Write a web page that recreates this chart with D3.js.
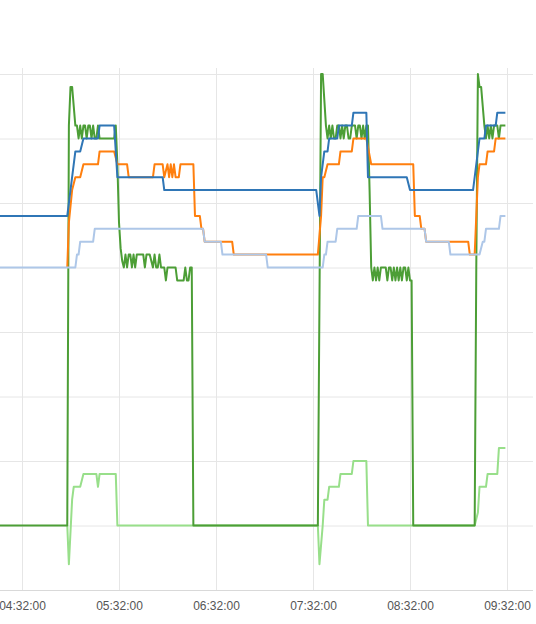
<!DOCTYPE html>
<html><head><meta charset="utf-8">
<script src="https://cdn.jsdelivr.net/npm/d3@7"></script>
<style>body{margin:0;background:#fff}svg{display:block}text{font-family:"Liberation Sans",Arial,sans-serif}</style>
</head><body><svg id="chart" width="536" height="624"></svg>
<script>
const timeTicks = ["04:32:00","05:32:00","06:32:00","07:32:00","08:32:00","09:32:00"];
const yTicks = [0,10,20,30,40,50,60,70,80];

const seriesBlue = [["04:18",58],["05:00",58],["05:05",68],["05:08",68],["05:10",70],["05:19",70],["05:20",72],["05:29",72],["05:31",64],["05:59",64],["06:00",62],["07:34",62],["07:36",58],["07:37",64],["07:39",68],["07:41",68],["07:42",70],["07:47",70],["07:48",72],["07:56",72],["07:57",74],["08:05",74],["08:06",64],["08:30",64],["08:32",62],["09:11",62],["09:15",70],["09:18",70],["09:19",72],["09:25",72],["09:26",74],["09:31",74]];

const seriesOrange = [["05:00",50],["05:01",57],["05:03",62],["05:05",64],["05:08",64],["05:10",66],["05:19",66],["05:20",68],["05:29",68],["05:31",66],["05:37",66],["05:38",64],["05:53",64],["05:54",66],["05:59",66],["06:00",64],["06:02",66],["06:03",64],["06:04",66],["06:05",64],["06:06",66],["06:07",64],["06:09",64],["06:10",66],["06:18",66],["06:19",58],["06:22",58],["06:23",56],["06:24",56],["06:25",54],["06:42",54],["06:43",52],["07:35",52],["07:37",58],["07:38",64],["07:39",64],["07:41",66],["07:48",66],["07:49",68],["07:56",68],["07:57",70],["08:05",70],["08:08",66],["08:34",66],["08:35",58],["08:38",58],["08:39",56],["08:41",56],["08:42",54],["09:08",54],["09:09",52],["09:12",52],["09:14",64],["09:15",66],["09:19",66],["09:20",68],["09:24",68],["09:25",70],["09:31",70]];

const seriesLightBlue = [["04:18",50],["05:05",50],["05:06",52],["05:07",52],["05:08",54],["05:16",54],["05:17",56],["06:24",56],["06:25",54],["06:35",54],["06:36",52],["07:03",52],["07:04",50],["07:38",50],["07:39",52],["07:40",52],["07:41",54],["07:46",54],["07:47",56],["07:59",56],["08:00",58],["08:14",58],["08:15",56],["08:41",56],["08:42",54],["08:56",54],["08:57",52],["09:15",52],["09:17",54],["09:18",54],["09:19",56],["09:27",56],["09:28",58],["09:31",58]];

const seriesGreen = [["04:18",10],["05:00",10],["05:01",72],["05:02",78],["05:03",78],["05:05",72],["05:06",72],["05:07",70],["05:08",72],["05:09",70],["05:10",72],["05:11",72],["05:12",70],["05:13",72],["05:14",72],["05:15",70],["05:16",72],["05:17",70],["05:18",70],["05:19",72],["05:20",70],["05:29",70],["05:30",72],["05:31",66],["05:32",57],["05:33",53],["05:34",51],["05:35",50],["05:36",52],["05:37",50],["05:38",52],["05:39",52],["05:40",50],["05:41",52],["05:42",50],["05:43",52],["05:47",52],["05:48",50],["05:49",52],["05:51",52],["05:53",50],["05:54",52],["05:55",50],["05:56",50],["05:57",52],["05:58",50],["06:00",50],["06:01",48],["06:02",50],["06:07",50],["06:08",48],["06:12",48],["06:13",50],["06:14",48],["06:15",48],["06:16",50],["06:17",50],["06:18",10],["07:35",10],["07:36",45],["07:37",80],["07:38",80],["07:39",76],["07:40",72],["07:41",70],["07:42",72],["07:43",70],["07:44",72],["07:45",70],["07:46",70],["07:47",72],["07:48",72],["07:49",70],["07:50",72],["07:51",70],["07:52",72],["07:53",72],["07:54",70],["07:55",70],["07:56",72],["07:57",72],["07:58",72],["07:59",70],["08:00",72],["08:01",72],["08:02",70],["08:03",72],["08:04",70],["08:05",72],["08:06",72],["08:07",62],["08:08",50],["08:09",48],["08:10",50],["08:11",48],["08:12",50],["08:13",48],["08:14",50],["08:17",50],["08:18",48],["08:19",50],["08:20",50],["08:21",48],["08:22",50],["08:23",48],["08:24",50],["08:25",48],["08:26",50],["08:27",48],["08:28",50],["08:29",50],["08:30",48],["08:31",50],["08:32",48],["08:33",48],["08:34",10],["09:12",10],["09:13",50],["09:14",80],["09:15",78],["09:16",78],["09:17",75],["09:18",72],["09:19",70],["09:20",72],["09:21",70],["09:22",72],["09:23",70],["09:24",72],["09:26",72],["09:27",70],["09:28",72],["09:31",72]];

const seriesLightGreen = [["05:00",10],["05:01",4],["05:02",9],["05:03",14],["05:04",16],["05:08",16],["05:10",18],["05:18",18],["05:19",16],["05:20",18],["05:30",18],["05:31",10],["07:35",10],["07:36",4],["07:37",7],["07:38",10],["07:39",14],["07:41",14],["07:42",16],["07:48",16],["07:49",18],["07:56",18],["07:57",20],["08:05",20],["08:06",10],["09:12",10],["09:13",11],["09:14",12],["09:15",16],["09:19",16],["09:20",18],["09:26",18],["09:27",22],["09:31",22]];

// drawing order (bottom to top) and colours
const layers = [
  {data: seriesLightGreen, color: "#98df8a"},
  {data: seriesGreen, color: "#4c9e36"},
  {data: seriesOrange, color: "#ff7f0e"},
  {data: seriesLightBlue, color: "#aec7e8"},
  {data: seriesBlue, color: "#2f76b6"}
];

const day = "2020-01-01 ";
const parseMin = d3.timeParse("%Y-%m-%d %H:%M");
const parseSec = d3.timeParse("%Y-%m-%d %H:%M:%S");
const tickDates = timeTicks.map(t => parseSec(day + t));

const W = 536, plotRight = 533, plotBottom = 590, plotTop = 74, gridTop = 68;
const x = d3.scaleTime().domain([tickDates[0], tickDates[tickDates.length-1]]).range([22, 507]);
const y = d3.scaleLinear().domain([0, 80]).range([plotBottom, plotTop]);

const svg = d3.select("#chart");
svg.append("rect").attr("width", W).attr("height", 624).attr("fill", "#fff");

// horizontal grid
const gy = svg.append("g")
  .call(d3.axisRight(y).tickValues(yTicks).tickSize(plotRight).tickFormat(""));
gy.select(".domain").remove();
gy.selectAll(".tick line").attr("stroke", "#e6e6e6").attr("stroke-width", 1);
gy.selectAll(".tick").filter(d => d === 0).select("line").attr("stroke", "#d9d9d9");

// vertical grid + labels
const gx = svg.append("g").attr("transform", `translate(0,${plotBottom})`)
  .call(d3.axisBottom(x).tickValues(tickDates).tickSize(-(plotBottom - gridTop)).tickPadding(11)
    .tickFormat(d3.timeFormat("%H:%M:%S")));
gx.select(".domain").remove();
gx.selectAll(".tick line").attr("stroke", "#e6e6e6").attr("stroke-width", 1);
gx.selectAll(".tick text").attr("fill", "#555").attr("font-size", "12px")
  .attr("font-family", "'Liberation Sans', Arial, sans-serif");

const line = d3.line()
  .x(d => x(parseMin(day + d[0])))
  .y(d => y(d[1]))
  .curve(d3.curveLinear);

svg.append("g").selectAll("path").data(layers).join("path")
  .attr("d", d => line(d.data))
  .attr("fill", "none")
  .attr("stroke", d => d.color)
  .attr("stroke-width", 2)
  .attr("stroke-linejoin", "round");
</script></body></html>
